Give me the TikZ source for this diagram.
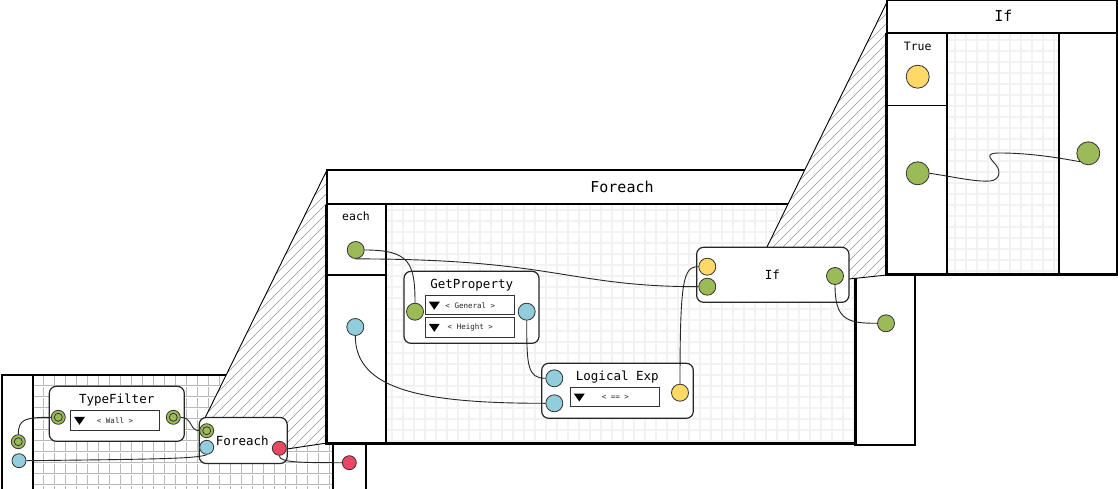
\documentclass[tikz,border=0pt]{standalone}
\usepackage{fontspec}
\setmonofont{DejaVu Sans Mono}
\definecolor{pgreen}{RGB}{155,187,89}
\definecolor{pblue}{RGB}{146,205,220}
\definecolor{pyellow}{RGB}{255,217,102}
\definecolor{pred}{RGB}{232,72,98}
\begin{document}
\begin{tikzpicture}[x=1pt,y=-1pt,
  wire/.style={draw=black!85,line width=0.9pt},
  box/.style={draw=black!85,line width=1.2pt,rounded corners=7pt,fill=white,inner sep=0pt},
  port/.style={circle,draw=black!80,line width=0.8pt,inner sep=0pt,minimum size=17pt},
  sport/.style={port,minimum size=14pt},
  bport/.style={port,minimum size=23pt},
  ring/.style={sport,fill=pgreen,path picture={\draw[line width=0.8pt,black!80] (path picture bounding box.center) circle[radius=4pt];}},
  dd/.style={draw=black!80,line width=1pt,fill=white,minimum width=89pt,minimum height=19.5pt,inner sep=0pt,text=black!85,font=\ttfamily\fontsize{7.5}{9}\selectfont},
  ttl/.style={inner sep=0pt,font=\ttfamily\fontsize{12.5}{15}\selectfont},
  hdr/.style={inner sep=0pt,font=\ttfamily\fontsize{15}{18}\selectfont},
  lbl/.style={inner sep=0pt,font=\ttfamily\fontsize{11.5}{13}\selectfont},
  frame/.style={draw=black,line width=1.2pt},
  heavy/.style={draw=black,line width=3pt},
  hatchline/.style={draw=gray!85,line width=0.6pt},
  cgrid/.style={draw=gray!55,line width=0.7pt,double=white,double distance=0.8pt},
  lgrid/.style={draw=gray!10,line width=1.2pt},
]
\useasboundingbox (0,0) rectangle (1118,489);

% ---------------- left panel
\fill[white] (2,375) rectangle (366,489);
\begin{scope}
  \clip (33,375) rectangle (333,489);
  \foreach \x in {44,55,...,330} \draw[cgrid] (\x,375) -- (\x,489);
  \foreach \y in {386,397,...,485} \draw[cgrid] (33,\y) -- (333,\y);
\end{scope}
\draw[frame] (2,490) -- (2,375) -- (366,375) -- (366,490);
\draw[frame] (33,375) -- (33,490) (333,375) -- (333,490);

% ---------------- hatch 1
\fill[white] (205,418) -- (327,170) -- (327,443) -- (287,449) -- cycle;
\begin{scope}
  \clip (205,418) -- (327,170) -- (327,443) -- (287,449) -- cycle;
  \foreach \a in {20,30,...,340} \draw[hatchline] (\a,460) -- ++(300,-300);
\end{scope}
\draw[line width=0.9pt] (205,418) -- (327,170);
\draw[line width=0.9pt] (287,449) -- (327,443);

% ---------------- left panel nodes
\node[box,minimum width=135pt,minimum height=55pt] (tf) at (116.8,413.8) {};
\node[ttl] (tft) at (116.7,400.5) {TypeFilter};
\node[dd] (tfdd) at (115,420.3) {< Wall >};
\fill ([xshift=4pt]tfdd.west) ++(0,-3.5) -- ++(11,0) -- ++(-5.5,8) -- cycle;
\node[box,minimum width=88pt,minimum height=46pt] (fe) at (243.2,440.5) {};
\node[ttl] (fet) at (242.3,440.7) {Foreach};

\node[ring] (tfin) at (58.3,417.3) {};
\node[ring] (tfout) at (173.3,417.3) {};
\node[ring] (o1) at (18.3,441.7) {};
\node[sport,fill=pblue] (o2) at (19,460.7) {};
\node[ring] (fein) at (206.7,430.7) {};
\node[sport,fill=pblue] (feb) at (206.7,447.3) {};
\node[sport,fill=pred] (fer) at (279.3,448.3) {};
\node[sport,fill=pred] (ored) at (349.3,462.7) {};

\draw[wire] (tfin.west) .. controls +(-26,0) and +(0,-15) .. (o1.north);
\draw[wire] (tfout.east) .. controls +(12,0) and +(-10,0) .. (fein.west);
\draw[wire] (o2.east) .. controls +(130,-1.5) and +(-10,4) .. (feb.south);
\draw[wire] (fer.south) .. controls +(0,7) and +(-40,0) .. (ored.west);

% ---------------- Foreach panel
\fill[white] (327,170) rectangle (915,445);
\begin{scope}
  \clip (386,204) rectangle (855,443);
  \foreach \x in {392,403,...,855} \draw[lgrid] (\x,204) -- (\x,443);
  \foreach \y in {210,221,...,443} \draw[lgrid] (386,\y) -- (855,\y);
\end{scope}
\draw[frame] (327,170) rectangle (915,204);
\draw[frame] (327,204) rectangle (386,443);
\draw[frame] (327,275) -- (386,275);
\draw[frame] (386,204) rectangle (855,443);
\draw[frame] (855,204) rectangle (915,445);
\draw[heavy] (326,205) -- (326,443.7) -- (855.5,443.7) -- (855.5,204);
\node[hdr] (fh) at (622,187) {Foreach};
\node[lbl] (eachl) at (356,216) {each};

\node[port,fill=pgreen] (eg) at (355.7,250) {};
\node[port,fill=pblue] (eb) at (355.3,327) {};

\node[box,minimum width=135pt,minimum height=72pt] (gp) at (471.5,307.3) {};
\node[ttl] (gpt) at (471.7,285) {GetProperty};
\node[dd] (gpd1) at (470.3,305.2) {< General >};
\node[dd] (gpd2) at (470.3,327.3) {< Height >};
\fill ([xshift=3.5pt]gpd1.west) ++(0,-3.5) -- ++(11,0) -- ++(-5.5,8) -- cycle;
\fill ([xshift=3.5pt]gpd2.west) ++(0,-3.5) -- ++(11,0) -- ++(-5.5,8) -- cycle;
\node[port,fill=pgreen] (gpg) at (415,311.7) {};
\node[port,fill=pblue] (gpb) at (526.7,311.7) {};

\node[box,minimum width=151.6pt,minimum height=55pt] (lg) at (617.5,390.8) {};
\node[ttl] (lgt) at (617.3,376.7) {Logical Exp};
\node[dd] (lgd) at (615.3,397) {< == >};
\fill ([xshift=3.5pt]lgd.west) ++(0,-3.5) -- ++(11,0) -- ++(-5.5,8) -- cycle;
\node[port,fill=pblue] (lb1) at (554.3,378.3) {};
\node[port,fill=pblue] (lb2) at (554.3,403.3) {};
\node[port,fill=pyellow] (ly) at (680,392.7) {};

\draw[wire] (eg.east) .. controls +(45,0) and +(0,-40) .. (gpg.north);
\draw[wire] (eb.south) .. controls +(0,55) and +(-120,0) .. (lb2.west);
\draw[wire] (gpb.south) .. controls +(0,45) and +(-18,0) .. (lb1.west);

% ---------------- hatch 2
\fill[white] (767,247) -- (888,0) -- (887,275) -- (849,279) -- cycle;
\begin{scope}
  \clip (767,247) -- (888,0) -- (887,275) -- (849,279) -- cycle;
  \foreach \a in {580,590,...,900} \draw[hatchline] (\a,290) -- ++(300,-300);
\end{scope}
\draw[line width=0.9pt] (767,247) -- (888,0);
\draw[line width=0.9pt] (849,279) -- (887,275);

% ---------------- If node
\node[box,minimum width=152.3pt,minimum height=55pt] (ifn) at (772.8,274.8) {};
\node[ttl] (ift) at (772.3,274.3) {If};
\node[port,fill=pyellow] (iy) at (707.3,266.7) {};
\node[port,fill=pgreen] (ig) at (707.3,286.7) {};
\node[port,fill=pgreen] (igr) at (835,276) {};
\node[port,fill=pgreen] (og) at (886,323.3) {};

\draw[wire] (eg.south) .. controls +(200,0) and +(-130,0) .. (ig.west);
\draw[wire] (ly.north) .. controls +(0,-105) and +(-15,0) .. (iy.west);
\draw[wire] (igr.south) .. controls +(0,35) and +(-30,0) .. (og.west);

% ---------------- If panel
\fill[white] (887,0) rectangle (1117,275);
\begin{scope}
  \clip (947,33) rectangle (1059,274);
  \foreach \x in {955,966,...,1059} \draw[lgrid] (\x,33) -- (\x,274);
  \foreach \y in {40,51,...,274} \draw[lgrid] (947,\y) -- (1059,\y);
\end{scope}
\draw[frame] (887,0.6) rectangle (1117,33);
\draw[frame] (887,33) rectangle (947,274);
\draw[frame] (887,105.7) -- (947,105.7);
\draw[frame] (947,33) rectangle (1059,274);
\draw[frame] (1059,33) rectangle (1117,275);
\draw[heavy] (886.5,33) -- (886.5,274) -- (1117,274);
\node[hdr] (ih) at (1003.3,16) {If};
\node[lbl] (tl) at (917.7,46) {True};
\node[bport,fill=pyellow] (ty) at (917.7,76.7) {};
\node[bport,fill=pgreen] (tg) at (917.7,173.3) {};
\node[bport,fill=pgreen] (tgr) at (1088.3,153.3) {};
\draw[wire] (tg.east) .. controls (955,177) and (975,182) .. (990,181)
  .. controls (1000,180) and (1001,171) .. (996,165)
  .. controls (990,158) and (984,153) .. (1000,153)
  .. controls (1030,153) and (1060,158) .. (tgr.south west);
\end{tikzpicture}
\end{document}
